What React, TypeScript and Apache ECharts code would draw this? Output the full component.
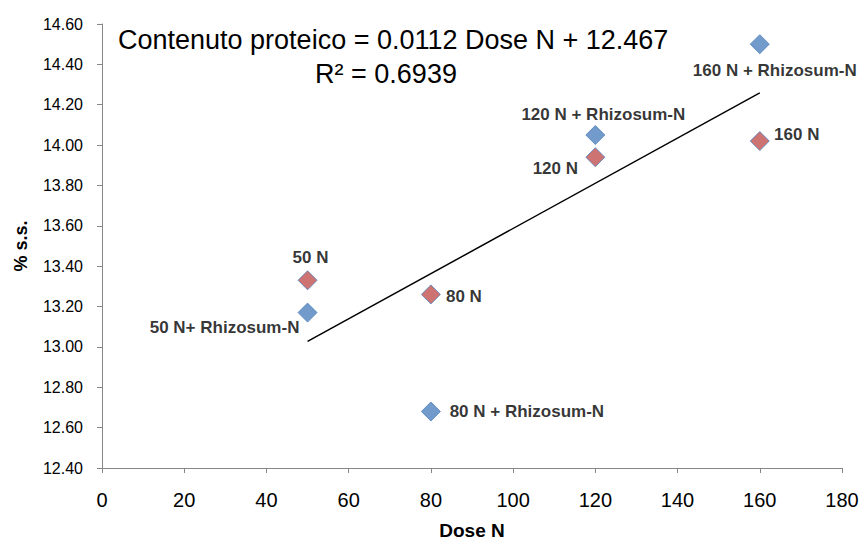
import React, { useEffect, useRef } from "react";
import * as echarts from "echarts";

const doseN = [50, 80, 120, 160];
const valuesN = [13.33, 13.26, 13.94, 14.02];
const labelsN = ["50 N", "80 N", "120 N", "160 N"];
const valuesRhizo = [13.17, 12.68, 14.05, 14.5];
const labelsRhizo = ["50 N+ Rhizosum-N", "80 N + Rhizosum-N", "120 N + Rhizosum-N", "160 N + Rhizosum-N"];
const trendX = [50, 160];
const trendY = [13.027, 14.259];
const equationText = "Contenuto proteico = 0.0112 Dose N + 12.467";
const r2Text = "R² = 0.6939";

const FONT = "'Liberation Sans', Arial, sans-serif";

// label centre offsets from the marker centre
const offN: number[][] = [
  [3, -23],
  [33, 2],
  [-40, 11],
  [37, -7],
];
const offR: number[][] = [
  [-83, 15],
  [96, 0],
  [8, -21],
  [15, 26],
];

export default function App() {
  const ref = useRef<HTMLDivElement>(null);
  useEffect(() => {
    const chart = echarts.init(ref.current!, null, { renderer: "svg" });
    const labelBase = {
      show: true,
      color: "#000",
      fontWeight: "bold",
      fontSize: 17,
      fontFamily: FONT,
      position: "inside",
      align: "center",
      verticalAlign: "middle",
    };
    chart.setOption({
      animation: false,
      backgroundColor: "#fff",
      grid: { left: 102, right: 20, top: 24, bottom: 74 },
      xAxis: {
        type: "value",
        min: 0,
        max: 180,
        interval: 20,
        name: "Dose N",
        nameLocation: "middle",
        nameGap: 53,
        nameTextStyle: { fontWeight: "bold", fontSize: 19, fontFamily: FONT, color: "#000" },
        axisLine: { show: true, lineStyle: { color: "#868686" } },
        axisTick: { show: true, length: 5, lineStyle: { color: "#868686" } },
        axisLabel: { fontSize: 20, fontFamily: FONT, color: "#000", margin: 22 },
        splitLine: { show: false },
      },
      yAxis: {
        type: "value",
        min: 12.4,
        max: 14.6,
        interval: 0.2,
        name: "% s.s.",
        nameLocation: "middle",
        nameGap: 72,
        nameTextStyle: { fontWeight: "bold", fontSize: 18, fontFamily: FONT, color: "#000" },
        axisLine: { show: true, lineStyle: { color: "#868686" } },
        axisTick: { show: true, length: 5, lineStyle: { color: "#868686" } },
        axisLabel: { fontSize: 16, fontFamily: FONT, color: "#000", margin: 19, formatter: (v: number) => v.toFixed(2) },
        splitLine: { show: false },
      },
      series: [
        {
          type: "line",
          data: trendX.map((x, i) => [x, trendY[i]]),
          showSymbol: false,
          symbol: "none",
          lineStyle: { color: "#000", width: 1.5 },
          z: 1,
        },
        {
          type: "scatter",
          symbol: "diamond",
          symbolSize: 19,
          itemStyle: { color: "#C0504D", borderColor: "#4F81BD", borderWidth: 1 },
          data: doseN.map((x, i) => ({
            value: [x, valuesN[i]],
            name: labelsN[i],
            label: { ...labelBase, offset: offN[i], formatter: labelsN[i] },
          })),
          z: 3,
        },
        {
          type: "scatter",
          symbol: "diamond",
          symbolSize: 19,
          itemStyle: { color: "#4F81BD", borderColor: "#4F81BD", borderWidth: 1 },
          data: doseN.map((x, i) => ({
            value: [x, valuesRhizo[i]],
            name: labelsRhizo[i],
            label: { ...labelBase, offset: offR[i], formatter: labelsRhizo[i] },
          })),
          z: 3,
        },
      ],
      graphic: [
        {
          type: "text",
          left: 118,
          top: 26,
          style: { text: equationText, fontSize: 27, fontFamily: FONT, fill: "#000" },
        },
        {
          type: "text",
          x: 386,
          y: 74,
          style: { text: r2Text, fontSize: 27, fontFamily: FONT, fill: "#000", align: "center", verticalAlign: "middle" },
        },
      ],
    });
    return () => chart.dispose();
  }, []);
  return <div ref={ref} style={{ width: 862, height: 545, position: "absolute", left: 0, top: 0 }} />;
}
